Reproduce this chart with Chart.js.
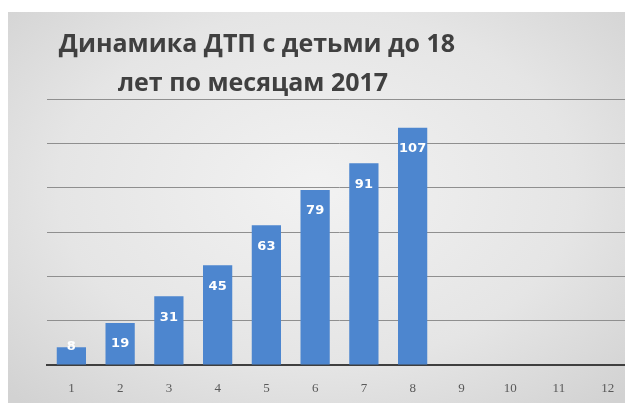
<!DOCTYPE html>
<html>
<head>
<meta charset="utf-8">
<script src="https://cdn.jsdelivr.net/npm/chart.js@4"></script>
<style>
  html, body { margin: 0; padding: 0; overflow: hidden; background: #fff; }
  #wrap { position: relative; width: 625px; height: 403px; overflow: hidden; }
  #bg {
    position: absolute; left: 8px; top: 12px; right: 0; bottom: 0;
    background: radial-gradient(ellipse 70% 75% at 50% 45%, #f2f2f2 0%, #e5e5e5 60%, #d2d2d2 100%);
  }
  #c { position: absolute; left: 0; top: 0; }
</style>
</head>
<body>
<div id="wrap">
  <div id="bg"></div>
  <canvas id="c" width="640" height="403"></canvas>
</div>
<script>
// months and number of road accidents with children
const months = ['1', '2', '3', '4', '5', '6', '7', '8', '9', '10', '11', '12'];
const accidents = [8, 19, 31, 45, 63, 79, 91, 107, null, null, null, null];
const titleLines = ['Динамика ДТП с детьми до 18', 'лет по месяцам 2017'];

const titlePlugin = {
  id: 'bigTitle',
  afterDraw(chart) {
    const ctx = chart.ctx;
    ctx.save();
    ctx.fillStyle = '#404040';
    ctx.font = 'bold 25px "Open Sans"';
    ctx.textAlign = 'center';
    ctx.textBaseline = 'alphabetic';
    ctx.fillText(titleLines[0], 257, 52);
    ctx.fillText(titleLines[1], 253, 91);
    ctx.restore();
  }
};

const labelPlugin = {
  id: 'barLabels',
  afterDatasetsDraw(chart) {
    const ctx = chart.ctx;
    const meta = chart.getDatasetMeta(0);
    ctx.save();
    ctx.fillStyle = '#ffffff';
    ctx.font = 'bold 13px "DejaVu Sans"';
    ctx.textAlign = 'center';
    ctx.textBaseline = 'middle';
    meta.data.forEach((bar, i) => {
      const v = accidents[i];
      if (v == null) return;
      const h = bar.base - bar.y;
      const y = h < 30 ? bar.y - 1 : bar.y + 21;
      ctx.fillText(String(v), bar.x, y);
    });
    ctx.restore();
  }
};

new Chart(document.getElementById('c'), {
  type: 'bar',
  plugins: [titlePlugin, labelPlugin],
  data: {
    labels: months,
    datasets: [{
      data: accidents,
      backgroundColor: '#4d86cf',
      borderWidth: 0,
      barPercentage: 0.6,
      categoryPercentage: 1.0
    }]
  },
  options: {
    responsive: false,
    animation: false,
    devicePixelRatio: 1,
    layout: { padding: { left: 47, right: 8, top: 99, bottom: 7 } },
    scales: {
      x: {
        grid: { display: false, drawTicks: false },
        border: { display: true, color: '#3f3f3f', width: 2 },
        ticks: {
          color: '#595959',
          font: { size: 13, family: 'Liberation Serif' },
          padding: 16
        },
        afterFit: (s) => { s.height = 31; }
      },
      y: {
        min: 0,
        max: 120,
        ticks: { display: false, stepSize: 20 },
        border: { display: false },
        grid: {
          drawTicks: false,
          color: (c) => c.tick.value === 0 ? 'rgba(0,0,0,0)' : '#8f8f8f',
          lineWidth: 1
        }
      }
    },
    plugins: {
      legend: { display: false },
      title: { display: false },
      tooltip: { enabled: false }
    }
  }
});
</script>
</body>
</html>
